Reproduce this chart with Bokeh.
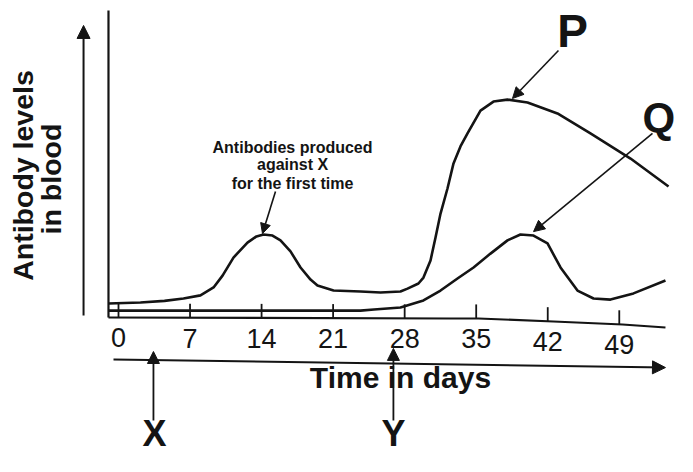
import numpy as np
from bokeh.plotting import figure
from bokeh.models import Range1d, Arrow, NormalHead
from bokeh.core.properties import value
from bokeh.embed import file_html
from bokeh.resources import INLINE

# ---- data (x in days, y in relative antibody level) ----
p_days = [-0.98, 2.15, 4.5, 6.36, 8.02, 9.30, 10.18, 11.25, 12.62, 13.50, 14.19, 15.07,
          15.85, 16.83, 17.81, 18.79, 19.47, 21.04, 23.68, 25.64, 27.59, 28.28, 29.35,
          29.84, 30.53, 31.02, 31.51, 32.19, 32.78, 33.46, 34.15, 35.42, 36.69, 38.06,
          40.02, 42.95, 46.18, 50.10, 53.82]
p_level = [6.8, 7.3, 8.0, 9.1, 10.5, 14.1, 19.5, 27.7, 34.5, 37.3, 38.2, 37.7,
           35.5, 30.5, 23.2, 17.7, 15.0, 12.7, 12.3, 11.8, 12.3, 13.6, 15.9,
           18.6, 26.4, 36.8, 47.7, 59.1, 70.5, 78.2, 84.1, 94.5, 98.6, 99.5,
           98.2, 93.2, 84.1, 72.7, 60.0]

q_days = [-0.98, 8.0, 17.8, 23.68, 25.0, 27.59, 29.84, 31.51, 33.17, 34.74, 36.40,
          38.06, 39.33, 40.61, 41.98, 43.25, 44.91, 46.48, 48.14, 50.39, 53.52]
q_level = [3.6, 3.6, 3.6, 3.6, 4.1, 5.0, 8.2, 12.7, 18.2, 23.2, 29.5,
           35.5, 38.2, 37.7, 34.1, 23.2, 12.7, 9.1, 8.6, 11.4, 17.3]

tick_days = [0, 7, 14, 21, 28, 35, 42, 49]
tick_labels = ["0", "7", "14", "21", "28", "35", "42", "49"]

axis_days = [-0.98, 32.49, 35.23, 42.56, 49.32, 53.52]
axis_level = [0.45, 0.0, 0.0, -1.36, -2.73, -4.09]

INK = "#141414"
FONT = value("Liberation Sans")

p = figure(width=677, height=456, output_backend="svg", toolbar_location=None,
           x_range=Range1d(-11.546, 54.697), y_range=Range1d(-62.727, 144.545),
           min_border=0, x_axis_location=None, y_axis_location=None,
           background_fill_color="white", border_fill_color="white")
p.grid.visible = False
p.outline_line_color = None

# y axis line and baseline axis
p.line([axis_days[0], axis_days[0]], [axis_level[0], 140.0], line_color=INK, line_width=2.2)
p.line(axis_days, axis_level, line_color=INK, line_width=2.2)

# ticks
ax_at_ticks = np.interp(tick_days, axis_days, axis_level)
p.segment(x0=tick_days, y0=ax_at_ticks, x1=tick_days, y1=ax_at_ticks + 6.4,
          line_color=INK, line_width=1.8)
p.text(x=tick_days, y=ax_at_ticks - 9.3, text=tick_labels, text_font=FONT,
       text_font_size="27px", text_align="center", text_baseline="middle",
       text_color=INK)

# curves
p.line(p_days, p_level, line_color=INK, line_width=2.6, line_join="round")
p.line(q_days, q_level, line_color=INK, line_width=2.6, line_join="round")

def arrow(x0, y0, x1, y1, size=11, w=1.6):
    p.add_layout(Arrow(end=NormalHead(size=size, fill_color=INK, line_color=INK),
                       x_start=x0, y_start=y0, x_end=x1, y_end=y1,
                       line_color=INK, line_width=w))

# left y arrow
arrow(-3.42, 1.36, -3.42, 133.2, size=13, w=2)
# time arrow
arrow(-0.49, -18.6, 53.52, -22.3, size=13, w=2)
# X and Y arrows
arrow(3.42, -46.4, 3.42, -15.0, size=12, w=1.8)
arrow(26.9, -46.4, 26.9, -13.6, size=12, w=1.8)
# P, Q, annotation arrows
arrow(43.05, 121.8, 38.55, 100.0, size=11, w=1.6)
arrow(52.25, 84.1, 40.61, 39.5, size=11, w=1.6)
arrow(15.36, 57.7, 14.09, 38.6, size=10, w=1.6)

# texts
p.text(x=[27.59], y=[-26.8], text=["Time in days"], text_font=FONT, text_font_style="bold",
       text_font_size="30px", text_align="center", text_baseline="middle", text_color=INK)
p.text(x=[3.52, 26.9], y=[-52.3, -52.3], text=["X", "Y"], text_font=FONT,
       text_font_style="bold", text_font_size="36px", text_align="center",
       text_baseline="middle", text_color=INK)
p.text(x=[44.42], y=[130.9], text=["P"], text_font=FONT, text_font_style="bold",
       text_font_size="46px", text_align="center", text_baseline="middle", text_color=INK)
p.text(x=[51.27], y=[91.4], text=["Q"], text_font=FONT, text_font_style="bold",
       text_font_size="42px", text_align="left", text_baseline="middle", text_color=INK)
p.text(x=[17.03, 17.03, 17.03], y=[77.7, 70.0, 61.4],
       text=["Antibodies produced", "against X", "for the first time"], text_font=FONT,
       text_font_style="bold", text_font_size="16px", text_align="center",
       text_baseline="middle", text_color=INK)
p.text(x=[-9.30, -6.56], y=[65.0, 63.4], text=["Antibody levels", "in blood"],
       angle=[np.pi / 2, np.pi / 2], text_font=FONT, text_font_style="bold",
       text_font_size="28.5px", text_align="center", text_baseline="middle",
       text_color=INK)

open("out.html", "w").write(file_html(p, INLINE))
